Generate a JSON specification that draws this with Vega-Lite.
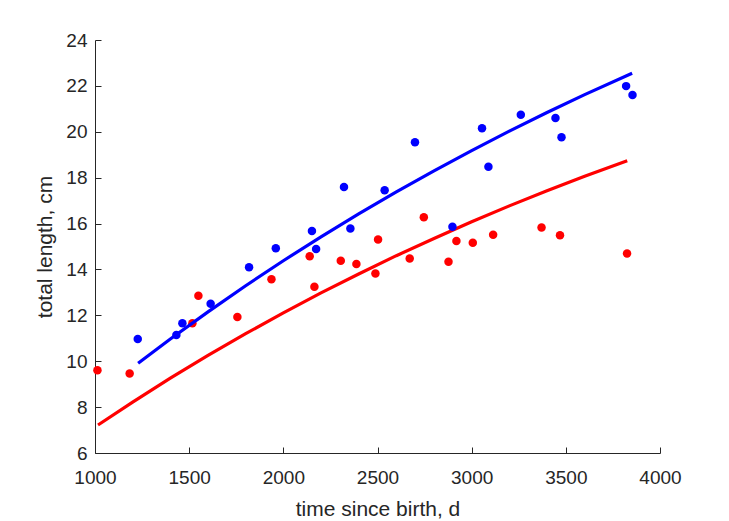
{
  "$schema": "https://vega.github.io/schema/vega-lite/v6.json",
  "width": 565,
  "height": 413,
  "autosize": "none",
  "padding": {"left": 95, "top": 40, "right": 69, "bottom": 68},
  "background": "white",
  "config": {
    "view": {"stroke": null},
    "axis": {
      "domainColor": "#262626",
      "tickColor": "#262626",
      "labelColor": "#262626",
      "titleColor": "#262626",
      "labelFont": "Liberation Sans",
      "titleFont": "Liberation Sans",
      "labelFontSize": 19,
      "titleFontSize": 21,
      "titleFontWeight": "normal",
      "labelFlush": false,
      "labelOverlap": false,
      "grid": false,
      "tickSize": -6,
      "tickWidth": 1,
      "domainWidth": 1
    }
  },
  "datasets": {
    "pts": [
      {"sex": "male", "t": 1227, "L": 10.97},
      {"sex": "male", "t": 1432, "L": 11.14},
      {"sex": "male", "t": 1464, "L": 11.66},
      {"sex": "male", "t": 1614, "L": 12.50},
      {"sex": "male", "t": 1818, "L": 14.10},
      {"sex": "male", "t": 1960, "L": 14.92},
      {"sex": "male", "t": 2152, "L": 15.68},
      {"sex": "male", "t": 2174, "L": 14.89},
      {"sex": "male", "t": 2322, "L": 17.59},
      {"sex": "male", "t": 2356, "L": 15.78},
      {"sex": "male", "t": 2538, "L": 17.45},
      {"sex": "male", "t": 2699, "L": 19.54},
      {"sex": "male", "t": 2898, "L": 15.86},
      {"sex": "male", "t": 3055, "L": 20.15},
      {"sex": "male", "t": 3089, "L": 18.48},
      {"sex": "male", "t": 3261, "L": 20.74},
      {"sex": "male", "t": 3445, "L": 20.60},
      {"sex": "male", "t": 3477, "L": 19.76},
      {"sex": "male", "t": 3820, "L": 21.99},
      {"sex": "male", "t": 3854, "L": 21.60},
      {"sex": "female", "t": 1013, "L": 9.61},
      {"sex": "female", "t": 1184, "L": 9.47},
      {"sex": "female", "t": 1517, "L": 11.66},
      {"sex": "female", "t": 1549, "L": 12.85},
      {"sex": "female", "t": 1756, "L": 11.93},
      {"sex": "female", "t": 1937, "L": 13.57},
      {"sex": "female", "t": 2140, "L": 14.57},
      {"sex": "female", "t": 2165, "L": 13.25},
      {"sex": "female", "t": 2305, "L": 14.38},
      {"sex": "female", "t": 2388, "L": 14.24},
      {"sex": "female", "t": 2489, "L": 13.82},
      {"sex": "female", "t": 2503, "L": 15.31},
      {"sex": "female", "t": 2671, "L": 14.48},
      {"sex": "female", "t": 2746, "L": 16.27},
      {"sex": "female", "t": 2877, "L": 14.34},
      {"sex": "female", "t": 2919, "L": 15.24},
      {"sex": "female", "t": 3006, "L": 15.16},
      {"sex": "female", "t": 3114, "L": 15.51},
      {"sex": "female", "t": 3371, "L": 15.83},
      {"sex": "female", "t": 3469, "L": 15.49},
      {"sex": "female", "t": 3825, "L": 14.70}
    ],
    "fit": [
      {"sex": "male", "t": 1229, "L": 9.91},
      {"sex": "male", "t": 1400, "L": 10.97},
      {"sex": "male", "t": 1600, "L": 12.15},
      {"sex": "male", "t": 1800, "L": 13.29},
      {"sex": "male", "t": 2000, "L": 14.38},
      {"sex": "male", "t": 2200, "L": 15.42},
      {"sex": "male", "t": 2400, "L": 16.42},
      {"sex": "male", "t": 2600, "L": 17.38},
      {"sex": "male", "t": 2800, "L": 18.30},
      {"sex": "male", "t": 3000, "L": 19.18},
      {"sex": "male", "t": 3200, "L": 20.03},
      {"sex": "male", "t": 3400, "L": 20.84},
      {"sex": "male", "t": 3600, "L": 21.62},
      {"sex": "male", "t": 3852, "L": 22.55},
      {"sex": "female", "t": 1016, "L": 7.22},
      {"sex": "female", "t": 1200, "L": 8.22},
      {"sex": "female", "t": 1400, "L": 9.26},
      {"sex": "female", "t": 1600, "L": 10.25},
      {"sex": "female", "t": 1800, "L": 11.20},
      {"sex": "female", "t": 2000, "L": 12.11},
      {"sex": "female", "t": 2200, "L": 12.98},
      {"sex": "female", "t": 2400, "L": 13.80},
      {"sex": "female", "t": 2600, "L": 14.60},
      {"sex": "female", "t": 2800, "L": 15.35},
      {"sex": "female", "t": 3000, "L": 16.08},
      {"sex": "female", "t": 3200, "L": 16.77},
      {"sex": "female", "t": 3400, "L": 17.43},
      {"sex": "female", "t": 3600, "L": 18.06},
      {"sex": "female", "t": 3826, "L": 18.74}
    ]
  },
  "encoding": {
    "x": {
      "field": "t", "type": "quantitative",
      "scale": {"domain": [1000, 4000], "nice": false, "zero": false},
      "axis": {"title": "time since birth, d", "values": [1000, 1500, 2000, 2500, 3000, 3500, 4000], "format": "d", "labelPadding": 21, "titlePadding": 11}
    },
    "y": {
      "field": "L", "type": "quantitative",
      "scale": {"domain": [6, 24], "nice": false, "zero": false},
      "axis": {"title": "total length, cm", "values": [6, 8, 10, 12, 14, 16, 18, 20, 22, 24], "labelPadding": 14, "titlePadding": 10}
    }
  },
  "layer": [
    {
      "data": {"name": "fit"},
      "transform": [{"filter": "datum.sex === 'female'"}],
      "mark": {"type": "line", "color": "#ff0000", "strokeWidth": 3.2},
      "encoding": {}
    },
    {
      "data": {"name": "pts"},
      "transform": [{"filter": "datum.sex === 'female'"}],
      "mark": {"type": "circle", "color": "#ff0000", "size": 72, "opacity": 1}
    },
    {
      "data": {"name": "pts"},
      "transform": [{"filter": "datum.sex === 'male'"}],
      "mark": {"type": "circle", "color": "#0000ff", "size": 72, "opacity": 1}
    },
    {
      "data": {"name": "fit"},
      "transform": [{"filter": "datum.sex === 'male'"}],
      "mark": {"type": "line", "color": "#0000ff", "strokeWidth": 3.2},
      "encoding": {}
    }
  ]
}
